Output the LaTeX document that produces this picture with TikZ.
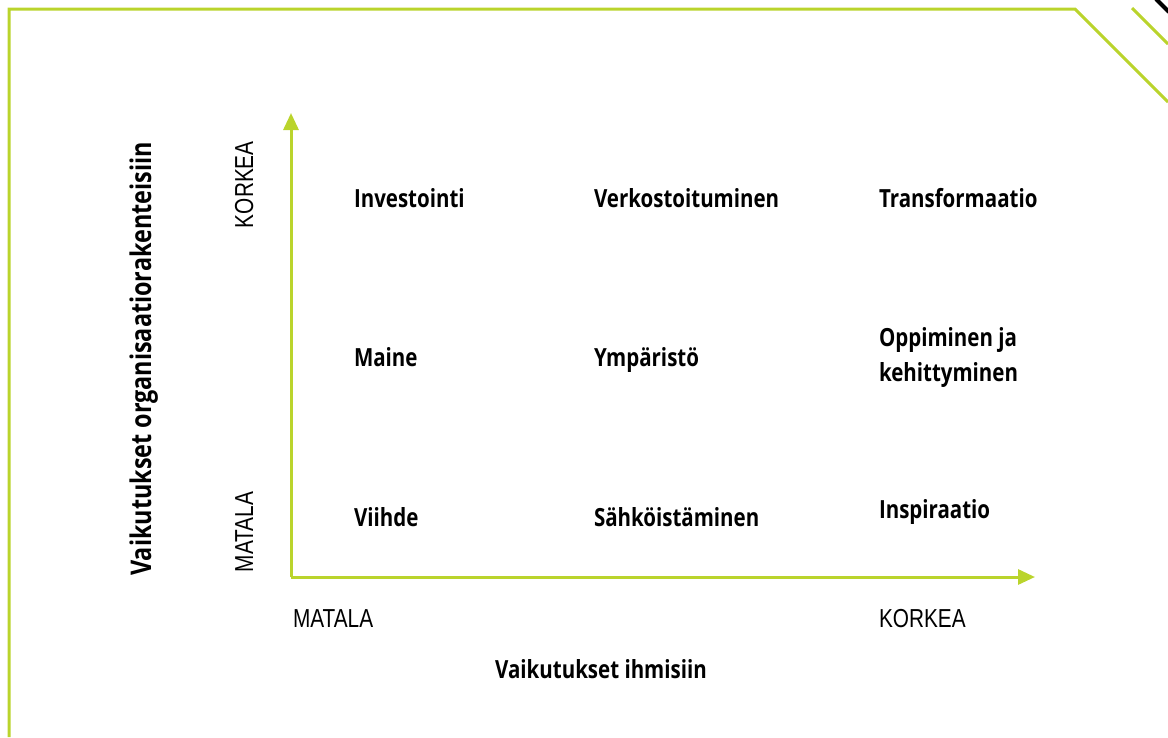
\documentclass[tikz,border=0pt]{standalone}
\usepackage{fontspec}
\usetikzlibrary{arrows.meta}
\newfontfamily\lblfont[FakeStretch=0.82]{Open Sans}
\newfontfamily\axfont[FakeStretch=0.8]{Liberation Sans}
\definecolor{lime}{RGB}{186,212,44}

\begin{document}
\begin{tikzpicture}[x=1pt,y=-1pt]
\tikzstyle{every node}=[inner sep=0pt, outer sep=0pt]
\tikzstyle{cell}=[anchor=base west, font=\lblfont\bfseries\fontsize{25}{35}\selectfont, align=left]
\tikzstyle{level}=[anchor=base west, font=\axfont\fontsize{26}{30}\selectfont]
\tikzstyle{axis}=[draw=lime, line width=3pt, -{Triangle[length=17pt,width=15pt]}]
\useasboundingbox (0,0) rectangle (1168,737);
% frame
\draw[lime, line width=3pt] (9,737) -- (9,9) -- (1075,9) -- (1168,102);
\draw[lime, line width=3pt] (1132,8) -- (1168,44);
\draw[black, line width=4pt] (1156,-1) -- (1169,12);
% axes
\coordinate (o) at (291,577);
\coordinate (ytip) at (291,113);
\coordinate (xtip) at (1035,577);
\draw[axis] (o) -- (ytip);
\draw[axis] (o) -- (xtip);
% cells
\node[cell] (inv) at (354,207) {Investointi};
\node[cell] (ver) at (594,207) {Verkostoituminen};
\node[cell] (tra) at (879,207) {Transformaatio};
\node[cell] (mai) at (354,366) {Maine};
\node[cell] (ymp) at (594,366) {Ympäristö};
\node[cell] (opp) at (879,381) {Oppiminen ja\\kehittyminen};
\node[cell] (vii) at (354,526) {Viihde};
\node[cell] (sah) at (594,526) {Sähköistäminen};
\node[cell] (ins) at (879,518) {Inspiraatio};
% levels
\node[level] (xlow) at (293,627) {MATALA};
\node[level] (xhigh) at (879,627) {KORKEA};
\node[level, rotate=90] (yhigh) at (253,228) {KORKEA};
\node[level, rotate=90] (ylow) at (253,572) {MATALA};
% axis titles
\node[cell, anchor=base] (xtitle) at (601,678) {Vaikutukset ihmisiin};
\node[cell, anchor=base, rotate=90, font=\lblfont\bfseries\fontsize{28.5}{32}\selectfont] (ytitle) at (151,359) {Vaikutukset organisaatiorakenteisiin};
\end{tikzpicture}
\end{document}
